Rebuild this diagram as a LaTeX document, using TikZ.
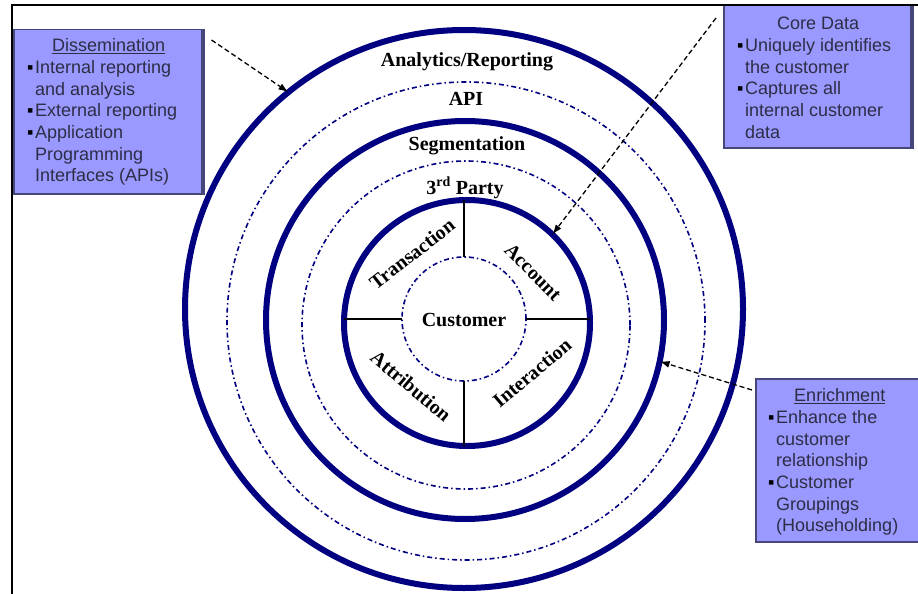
\documentclass[tikz,border=0pt]{standalone}
\usepackage{fontspec}
\setmainfont{Liberation Serif}
\newfontfamily\boxfont{Liberation Sans}
\usetikzlibrary{positioning,arrows.meta}

\definecolor{ringblue}{RGB}{0,0,128}
\definecolor{boxfill}{RGB}{153,153,255}
\definecolor{boxedge}{RGB}{70,70,120}
\definecolor{boxtext}{RGB}{45,45,70}

\newcommand{\bulletitem}{\makebox[8pt][l]{\textcolor{black}{▪}}}
\newcommand{\bulletgap}{\hspace*{8pt}}

\begin{document}
\begin{tikzpicture}[x=1pt,y=-1pt,
    thickring/.style={circle, draw=ringblue, line width=6pt, inner sep=0pt, outer sep=0pt},
    dotring/.style={circle, draw=ringblue, line width=1.6pt, dash pattern=on 5pt off 3pt on 1.5pt off 3pt, inner sep=0pt, outer sep=0pt},
    spoke/.style={draw=black, line width=2.5pt},
    ringlabel/.style={font=\fontsize{20}{24}\selectfont\bfseries, inner sep=0pt},
    infobox/.style={fill=boxfill, draw=boxedge, line width=1.5pt, inner sep=0pt, anchor=north west},
    boxtitle/.style={font=\boxfont\fontsize{18}{21.6}\selectfont, text=boxtext, inner sep=0pt},
    boxbody/.style={boxtitle, align=left},
    pointer/.style={draw=black, line width=1.3pt, dash pattern=on 5pt off 3pt, -{Latex[length=10pt,width=7pt]}}
  ]
  \useasboundingbox (0,0) rectangle (918,594);

  % rings
  \node[thickring, minimum size=558pt] (outerring) at (464,309) {};
  \node[dotring, minimum size=478pt] (apiring) at (466,321) {};
  \node[thickring, minimum size=398pt] (segring) at (465,320) {};
  \node[dotring, minimum size=328pt] (partyring) at (466,325) {};
  \node[thickring, minimum size=246pt] (innerring) at (467,323) {};
  \node[dotring, minimum size=124pt] (custring) at (464,319) {};

  % spokes
  \draw[spoke] (custring.north |- innerring.north) -- (custring.north);
  \draw[spoke] (custring.south) -- (custring.south |- innerring.south);
  \draw[spoke] (innerring.west |- custring.west) -- (custring.west);
  \draw[spoke] (custring.east) -- (innerring.east |- custring.east);

  % ring labels
  \node[ringlabel] (analytics) at (467,62) {Analytics/Reporting};
  \node[ringlabel] (api) at (466,99) {API};
  \node[ringlabel] (segment) at (467,146) {Segmentation};
  \node[ringlabel] (thirdparty) at (465,188) {3\textsuperscript{rd} Party};
  \node[ringlabel] (customer) at (464,320) {Customer};
  \node[ringlabel, rotate=38] (transaction) at (412,254) {Transaction};
  \node[ringlabel, rotate=-45] (account) at (533,272) {Account};
  \node[ringlabel, rotate=-40] (attribution) at (411,386) {Attribution};
  \node[ringlabel, rotate=40] (interaction) at (532,373) {Interaction};

  % Dissemination box
  \node[infobox, minimum width=190pt, minimum height=164pt] (dissembox) at (13,29) {};
  \draw[boxedge, line width=4pt] ([xshift=-2pt]dissembox.north east) -- ([xshift=-2pt]dissembox.south east);
  \node[boxtitle, below=9.5pt of dissembox.north] (dissemtitle) {\underline{Dissemination}};
  \node[boxbody, below right=31.5pt and 14pt of dissembox.north west] (dissemtext)
    {\bulletitem Internal reporting\\ \bulletgap and analysis\\ \bulletitem External reporting\\
     \bulletitem Application\\ \bulletgap Programming\\ \bulletgap Interfaces (APIs)};

  % Core Data box
  \node[infobox, minimum width=189pt, minimum height=142pt] (corebox) at (723,5) {};
  \draw[boxedge, line width=4pt] ([xshift=-2pt]corebox.north east) -- ([xshift=-2pt]corebox.south east);
  \node[boxtitle, below=11.5pt of corebox.north] (coretitle) {Core Data};
  \node[boxbody, below right=33.5pt and 14pt of corebox.north west] (coretext)
    {\bulletitem Uniquely identifies\\ \bulletgap the customer\\ \bulletitem Captures all\\
     \bulletgap internal customer\\ \bulletgap data};

  % Enrichment box
  \node[infobox, minimum width=168pt, minimum height=163pt] (enrichbox) at (755,378) {};
  \node[boxtitle, below=10.5pt of enrichbox.north] (enrichtitle) {\underline{Enrichment}};
  \node[boxbody, below right=32.5pt and 13pt of enrichbox.north west] (enrichtext)
    {\bulletitem Enhance the\\ \bulletgap customer\\ \bulletgap relationship\\
     \bulletitem Customer\\ \bulletgap Groupings\\ \bulletgap (Householding)};

  % pointers
  \coordinate (dissemtail) at ([xshift=7pt,yshift=-11pt]dissembox.north east);
  \coordinate (coretail) at ([xshift=-7pt,yshift=-13pt]corebox.north west);
  \coordinate (enrichtail) at ([xshift=-3pt,yshift=-12pt]enrichbox.north west);
  \draw[pointer] (dissemtail) -- (outerring.129);
  \draw[pointer] (coretail) -- (innerring.46);
  \draw[pointer] (enrichtail) -- (segring.348);

  % frame
  \draw[line width=2pt] (12,594) -- (12,5) -- (918,5);
\end{tikzpicture}
\end{document}
